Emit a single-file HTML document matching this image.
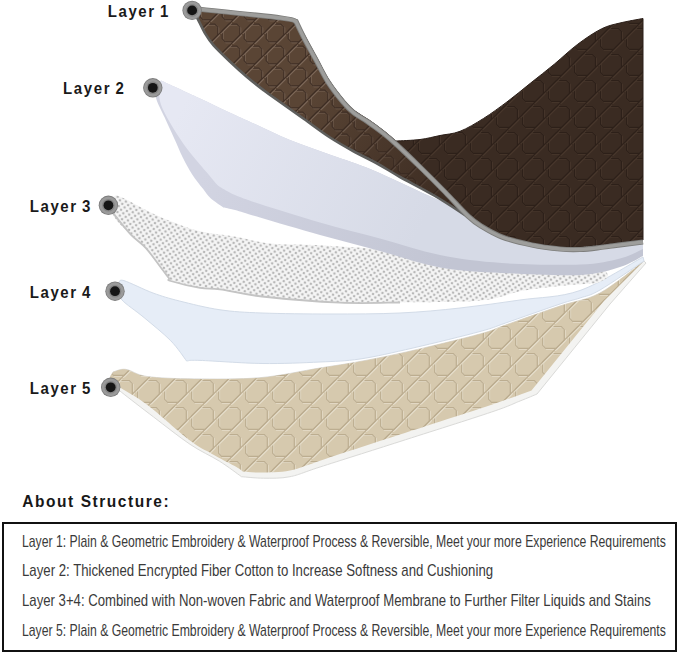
<!DOCTYPE html>
<html><head><meta charset="utf-8"><style>
html,body{margin:0;padding:0;background:#fff;}
body{width:679px;height:654px;position:relative;overflow:hidden;font-family:"Liberation Sans",sans-serif;}
.lab{position:absolute;font-weight:bold;font-size:15px;line-height:15px;letter-spacing:1.6px;word-spacing:-1.5px;color:#1a1a1a;white-space:nowrap;transform-origin:0 12.70px;transform:scaleY(1.1);}
.head{position:absolute;left:22.3px;top:493.78px;font-weight:bold;font-size:15.5px;line-height:15.5px;letter-spacing:1.55px;color:#181818;white-space:nowrap;transform-origin:0 13.12px;transform:scaleY(1.1);}
.box{position:absolute;left:1.5px;top:522px;width:671.5px;height:126px;border:2px solid #111;}
.ln{position:absolute;left:22.3px;font-size:17px;line-height:17px;color:#3a3a3a;white-space:nowrap;transform-origin:0 0;}
</style></head><body>
<svg width="679" height="480" viewBox="0 0 679 480" style="position:absolute;left:0;top:0">
<defs>
<pattern id="qb" width="26" height="26" patternUnits="userSpaceOnUse" patternTransform="rotate(0) scale(1,1.0)">
<rect x="-1" y="-1" width="28" height="28" fill="#3a2b22"/>
<g opacity="1.0"><path d="M10.40 2.60 L20.40 2.60 L23.40 5.60 L23.40 15.60 L15.60 23.40 L5.60 23.40 L2.60 20.40 L2.60 10.40 Z" fill="none" stroke="#47362b" stroke-width="1.2" transform="translate(0.8,0.8)"/>
<path d="M10.40 2.60 L20.40 2.60 L23.40 5.60 L23.40 15.60 L15.60 23.40 L5.60 23.40 L2.60 20.40 L2.60 10.40 Z" fill="none" stroke="#2d2019" stroke-width="1.2"/>
<path d="M0 13.00 L13.00 0 M13.00 26.00 L26.00 13.00" fill="none" stroke="#47362b" stroke-width="1.2" transform="translate(0.8,0.8)"/>
<path d="M0 13.00 L13.00 0 M13.00 26.00 L26.00 13.00" fill="none" stroke="#2d2019" stroke-width="1.2"/></g>
</pattern>
<pattern id="qf" width="22" height="22" patternUnits="userSpaceOnUse" patternTransform="rotate(0) scale(1,1.0)">
<rect x="-1" y="-1" width="24" height="24" fill="#5a4535"/>
<g opacity="1.0"><path d="M8.80 2.20 L16.80 2.20 L19.80 5.20 L19.80 13.20 L13.20 19.80 L5.20 19.80 L2.20 16.80 L2.20 8.80 Z" fill="none" stroke="#7c6757" stroke-width="1.2" transform="translate(0.8,0.8)"/>
<path d="M8.80 2.20 L16.80 2.20 L19.80 5.20 L19.80 13.20 L13.20 19.80 L5.20 19.80 L2.20 16.80 L2.20 8.80 Z" fill="none" stroke="#3f2e24" stroke-width="1.2"/>
<path d="M0 11.00 L11.00 0 M11.00 22.00 L22.00 11.00" fill="none" stroke="#7c6757" stroke-width="1.2" transform="translate(0.8,0.8)"/>
<path d="M0 11.00 L11.00 0 M11.00 22.00 L22.00 11.00" fill="none" stroke="#3f2e24" stroke-width="1.2"/></g>
</pattern>
<pattern id="qt" width="27" height="27" patternUnits="userSpaceOnUse" patternTransform="rotate(0) scale(1,1.0)">
<rect x="-1" y="-1" width="29" height="29" fill="#d6c9ae"/>
<g opacity="1.0"><path d="M10.80 2.70 L21.30 2.70 L24.30 5.70 L24.30 16.20 L16.20 24.30 L5.70 24.30 L2.70 21.30 L2.70 10.80 Z" fill="none" stroke="#e6decb" stroke-width="1.2" transform="translate(0.8,0.8)"/>
<path d="M10.80 2.70 L21.30 2.70 L24.30 5.70 L24.30 16.20 L16.20 24.30 L5.70 24.30 L2.70 21.30 L2.70 10.80 Z" fill="none" stroke="#bcad90" stroke-width="1.2"/>
<path d="M0 13.50 L13.50 0 M13.50 27.00 L27.00 13.50" fill="none" stroke="#e6decb" stroke-width="1.2" transform="translate(0.8,0.8)"/>
<path d="M0 13.50 L13.50 0 M13.50 27.00 L27.00 13.50" fill="none" stroke="#bcad90" stroke-width="1.2"/></g>
</pattern>
<pattern id="md" width="6.0" height="6.0" patternUnits="userSpaceOnUse" patternTransform="rotate(12)">
<rect width="6.0" height="6.0" fill="#f6f6f6"/>
<circle cx="3.0" cy="3.0" r="1.3" fill="#b8b8b8"/>
<circle cx="0" cy="0" r="1.3" fill="#b8b8b8"/><circle cx="6.0" cy="0" r="1.3" fill="#b8b8b8"/><circle cx="0" cy="6.0" r="1.3" fill="#b8b8b8"/><circle cx="6.0" cy="6.0" r="1.3" fill="#b8b8b8"/>
</pattern>
<linearGradient id="gfd" gradientUnits="userSpaceOnUse" x1="300" y1="100" x2="450" y2="200"><stop offset="0" stop-color="#2e2019" stop-opacity="0"/><stop offset="1" stop-color="#33241c" stop-opacity="0.75"/></linearGradient>
<linearGradient id="g4" gradientUnits="userSpaceOnUse" x1="0" y1="296" x2="0" y2="330"><stop offset="0" stop-color="#f4f7fb"/><stop offset="1" stop-color="#e1e9f4"/></linearGradient>
<linearGradient id="g2" gradientUnits="userSpaceOnUse" x1="180" y1="110" x2="420" y2="230"><stop offset="0" stop-color="#e6e8f3"/><stop offset="1" stop-color="#d6dae6"/></linearGradient>
<linearGradient id="g2u" gradientUnits="userSpaceOnUse" x1="200" y1="180" x2="450" y2="270"><stop offset="0" stop-color="#d2d4e2"/><stop offset="1" stop-color="#c2c5d3"/></linearGradient>
</defs>
<path d="M113.0 372.0 C115.2 371.6 120.2 368.6 125.9 369.4 C131.6 370.1 135.6 374.9 147.0 376.5 C158.4 378.1 175.4 378.7 194.2 378.9 C213.0 379.1 239.0 379.5 260.0 377.7 C281.0 375.9 303.3 370.7 320.0 368.0 C336.7 365.3 344.5 364.4 360.0 361.5 C375.5 358.6 393.0 355.1 413.0 350.5 C433.0 345.9 464.6 338.2 480.0 334.0 C495.4 329.8 492.3 329.7 505.6 325.0 C518.9 320.3 544.3 311.3 560.0 306.0 C575.7 300.7 586.0 300.5 600.0 293.0 C614.0 285.5 636.7 266.3 644.0 261.0 L646.0 263.0 L610.0 304.0 L537.0 394.0 C534.2 395.2 527.6 398.0 520.0 401.0 C512.4 404.0 511.6 405.2 491.6 412.0 C471.6 418.8 428.6 432.3 400.0 441.5 C371.4 450.7 338.3 461.1 320.0 467.0 C301.7 472.9 299.4 474.8 290.0 476.7 C280.6 478.6 271.7 478.2 263.6 478.2 C255.5 478.2 245.2 476.9 241.5 476.7 C237.8 474.1 228.1 466.6 219.5 461.2 C210.9 455.8 201.0 451.7 190.0 444.3 C179.0 436.9 165.1 425.7 153.6 417.0 C142.1 408.3 128.5 397.8 121.2 392.0 C113.9 386.2 111.4 385.3 110.0 382.0 C108.6 378.7 112.5 373.7 113.0 372.0 Z" fill="#f3f3f1" stroke="#dadad8" stroke-width="1"/>
<path d="M113.0 372.0 C115.2 371.6 120.2 368.6 125.9 369.4 C131.6 370.1 135.6 374.9 147.0 376.5 C158.4 378.1 175.4 378.7 194.2 378.9 C213.0 379.1 239.0 379.5 260.0 377.7 C281.0 375.9 303.3 370.7 320.0 368.0 C336.7 365.3 344.5 364.4 360.0 361.5 C375.5 358.6 393.0 355.1 413.0 350.5 C433.0 345.9 464.6 338.2 480.0 334.0 C495.4 329.8 492.3 329.7 505.6 325.0 C518.9 320.3 544.3 311.3 560.0 306.0 C575.7 300.7 586.0 300.5 600.0 293.0 C614.0 285.5 636.7 266.3 644.0 261.0 L604.0 301.0 L531.5 390.5 C524.9 392.9 506.7 399.7 491.6 404.8 C476.5 409.9 456.3 416.3 441.0 421.3 C425.7 426.3 413.3 430.3 400.0 434.6 C386.7 438.9 374.3 443.0 361.0 447.3 C347.7 451.6 331.8 456.8 320.0 460.7 C308.2 464.6 300.0 468.5 290.0 470.5 C280.0 472.5 267.8 472.3 260.0 472.5 C252.2 472.7 245.8 471.7 243.0 471.5 C241.5 470.5 239.4 468.6 234.2 465.7 C229.0 462.8 219.4 458.1 212.0 453.9 C204.6 449.7 200.8 448.8 190.0 440.6 C179.2 432.4 158.6 413.5 147.1 404.8 C135.6 396.1 127.4 392.4 121.2 388.3 C115.0 384.2 111.4 382.7 110.0 380.0 C108.6 377.3 112.5 373.3 113.0 372.0 Z" fill="url(#qt)"/>
<path d="M119.0 283.0 C119.8 282.6 118.2 278.9 123.9 280.6 C129.6 282.3 143.7 289.6 153.0 293.0 C162.3 296.4 168.3 298.2 179.5 301.0 C190.7 303.8 206.2 307.8 220.0 309.8 C233.8 311.8 243.7 312.3 262.0 313.0 C280.3 313.7 307.0 314.0 330.0 314.0 C353.0 314.0 378.3 314.0 400.0 313.0 C421.7 312.0 440.0 310.2 460.0 308.0 C480.0 305.8 500.0 302.9 520.0 300.0 C540.0 297.1 559.5 297.7 580.0 290.5 C600.5 283.3 632.5 262.6 643.0 257.0 L644.0 261.0 C636.7 265.8 610.7 283.8 600.0 290.0 C589.3 296.2 586.7 295.7 580.0 298.0 C573.3 300.3 572.4 299.8 560.0 304.0 C547.6 308.2 518.9 318.4 505.6 323.0 C492.3 327.6 495.4 327.3 480.0 331.5 C464.6 335.7 433.0 343.4 413.0 348.0 C393.0 352.6 375.5 356.7 360.0 359.0 C344.5 361.3 336.3 361.2 320.0 362.0 C303.7 362.8 282.0 363.8 262.0 363.5 C242.0 363.2 212.6 360.8 200.0 360.4 C187.4 360.0 188.8 360.9 186.6 361.0 C183.9 357.6 177.8 347.9 170.7 340.7 C163.6 333.5 152.3 324.5 144.2 317.7 C136.1 310.9 126.2 304.6 122.0 300.0 C117.8 295.4 119.5 292.8 119.0 290.0 C118.5 287.2 119.0 284.2 119.0 283.0 Z" fill="#e6edf7" stroke="#d3dce8" stroke-width="1"/>
<path d="M112.0 199.0 C113.0 198.5 112.6 194.2 118.3 196.0 C124.0 197.8 137.5 205.8 145.9 209.9 C154.3 214.0 159.8 217.0 168.8 220.6 C177.8 224.2 188.6 228.6 200.0 231.3 C211.4 234.0 225.3 235.0 237.0 237.0 C248.7 239.0 256.2 242.1 270.0 243.5 C283.8 244.9 299.7 244.2 320.0 245.3 C340.3 246.4 362.0 247.9 392.0 250.0 C422.0 252.1 465.3 255.7 500.0 258.0 C534.7 260.3 583.3 263.0 600.0 264.0 C601.3 266.0 608.3 272.8 608.0 276.0 C607.7 279.2 599.7 281.8 598.0 283.0 C591.7 283.5 572.6 284.7 560.0 286.0 C547.4 287.3 535.8 288.3 522.5 290.7 C509.2 293.1 500.4 298.6 480.0 300.6 C459.6 302.6 423.3 302.1 400.0 302.5 C376.7 302.9 363.0 303.7 340.0 302.7 C317.0 301.7 282.0 298.7 262.0 296.5 C242.0 294.3 230.3 290.8 220.0 289.4 C209.7 288.0 208.2 289.3 200.0 287.9 C191.8 286.5 175.6 282.1 170.7 281.0 C170.4 280.5 170.4 280.2 168.8 278.0 C167.2 275.8 165.0 273.0 161.2 268.0 C157.4 263.0 151.0 253.7 145.9 248.1 C140.8 242.5 136.1 239.8 130.6 234.3 C125.1 228.8 116.1 221.1 113.0 215.2 C109.9 209.3 112.2 201.7 112.0 199.0 Z" fill="url(#md)"/>
<path d="M113.0 213.0 C115.9 216.6 125.1 228.5 130.6 234.3 C136.1 240.2 140.8 242.5 145.9 248.1 C151.0 253.7 157.4 263.0 161.2 268.0 C165.0 273.0 167.2 275.8 168.8 278.0 C170.4 280.2 165.5 279.4 170.7 281.0 C175.9 282.6 191.8 286.5 200.0 287.9 C208.2 289.3 209.7 288.0 220.0 289.4 C230.3 290.8 242.0 294.3 262.0 296.5 C282.0 298.7 317.0 301.7 340.0 302.7 C363.0 303.7 390.0 302.5 400.0 302.5" fill="none" stroke="#c4c4c4" stroke-width="1.8"/>
<path d="M161.0 80.5 C167.3 83.4 187.7 92.7 199.0 98.0 C210.3 103.3 219.7 107.9 229.0 112.2 C238.3 116.5 244.8 119.4 255.0 124.0 C265.2 128.6 277.3 134.8 290.0 140.0 C302.7 145.2 317.2 150.0 331.0 155.0 C344.8 160.0 356.0 163.1 372.5 170.0 C389.0 176.9 412.1 188.3 430.0 196.3 C447.9 204.3 463.3 210.7 480.0 218.0 C496.7 225.3 516.7 234.8 530.0 240.0 C543.3 245.2 548.3 247.3 560.0 249.0 C571.7 250.7 586.2 251.0 600.0 250.0 C613.8 249.0 635.8 244.2 643.0 243.0 L643.0 256.0 C639.2 257.8 630.5 263.8 620.0 267.0 C609.5 270.2 599.7 274.0 580.0 275.0 C560.3 276.0 525.3 274.2 502.0 273.0 C478.7 271.8 460.3 271.2 440.0 267.5 C419.7 263.8 400.0 256.4 380.0 251.0 C360.0 245.6 340.0 240.6 320.0 235.0 C300.0 229.4 274.2 221.7 260.0 217.5 C245.8 213.3 241.1 211.7 235.0 210.0 C228.9 208.3 225.3 207.8 223.4 207.4 C221.3 205.9 214.0 201.4 210.6 198.3 C207.2 195.2 206.3 193.1 203.2 189.1 C200.1 185.1 195.6 179.6 192.2 174.4 C188.8 169.2 186.1 164.0 183.0 157.9 C179.9 151.8 177.0 144.4 173.9 137.7 C170.8 131.0 167.6 123.9 164.7 117.5 C161.8 111.1 157.8 104.1 156.4 99.2 C155.0 94.3 155.2 91.1 156.0 88.0 C156.8 84.9 160.2 81.8 161.0 80.5 Z" fill="url(#g2u)"/>
<path d="M161.0 80.5 C167.3 83.4 187.7 92.7 199.0 98.0 C210.3 103.3 219.7 107.9 229.0 112.2 C238.3 116.5 244.8 119.4 255.0 124.0 C265.2 128.6 277.3 134.8 290.0 140.0 C302.7 145.2 317.2 150.0 331.0 155.0 C344.8 160.0 356.0 163.1 372.5 170.0 C389.0 176.9 412.1 188.3 430.0 196.3 C447.9 204.3 463.3 210.7 480.0 218.0 C496.7 225.3 516.7 234.8 530.0 240.0 C543.3 245.2 548.3 247.3 560.0 249.0 C571.7 250.7 586.2 251.0 600.0 250.0 C613.8 249.0 635.8 244.2 643.0 243.0 L643.0 249.0 C639.2 250.6 630.5 255.9 620.0 258.5 C609.5 261.1 599.7 263.8 580.0 264.5 C560.3 265.2 525.3 264.6 502.0 263.0 C478.7 261.4 460.3 259.1 440.0 255.0 C419.7 250.9 400.0 243.9 380.0 238.5 C360.0 233.1 340.0 228.2 320.0 222.4 C300.0 216.7 274.2 208.6 260.0 204.0 C245.8 199.4 241.7 197.8 235.0 195.0 C228.3 192.2 222.5 188.3 220.0 187.0 C219.3 186.4 218.2 186.0 216.0 183.6 C213.8 181.2 210.2 176.6 206.9 172.6 C203.6 168.6 199.9 164.6 195.9 159.7 C191.9 154.8 187.3 149.3 183.0 143.2 C178.7 137.1 173.9 129.4 170.2 123.0 C166.5 116.6 162.9 110.2 161.0 104.7 C159.1 99.2 159.0 94.0 159.0 90.0 C159.0 86.0 160.7 82.1 161.0 80.5 Z" fill="url(#g2)"/>
<path d="M194.0 9.0 C208.5 10.5 263.8 16.0 281.0 18.0 C298.2 20.0 294.3 20.5 297.0 21.0 C298.3 23.5 301.7 29.8 305.0 36.0 C308.3 42.2 313.0 50.7 317.0 58.0 C321.0 65.3 324.5 73.0 329.0 80.0 C333.5 87.0 339.7 94.8 344.0 100.0 C348.3 105.2 350.8 107.7 355.0 111.0 C359.2 114.3 364.2 116.7 369.0 120.0 C373.8 123.3 379.5 127.5 384.0 131.0 C388.5 134.5 394.0 139.3 396.0 141.0 C400.0 140.8 412.7 140.4 420.0 139.5 C427.3 138.6 433.3 136.9 440.0 135.5 C446.7 134.1 452.7 134.2 460.0 131.3 C467.3 128.5 475.8 123.3 483.6 118.4 C491.4 113.5 499.1 107.8 507.0 101.9 C514.9 96.0 522.8 89.3 530.7 83.0 C538.6 76.7 546.4 70.7 554.3 64.2 C562.1 57.7 569.9 50.1 577.8 44.2 C585.6 38.3 594.4 32.4 601.4 28.9 C608.4 25.4 613.1 24.7 620.0 23.0 C626.9 21.3 639.2 19.2 643.0 18.5 L643.0 240.0 C635.8 240.8 610.5 243.8 600.0 245.0 C589.5 246.2 586.7 246.7 580.0 247.0 C573.3 247.3 568.0 247.7 560.0 247.0 C552.0 246.3 541.7 244.8 532.0 243.0 C522.3 241.2 510.5 238.8 502.0 236.0 C493.5 233.2 486.7 229.2 481.0 226.0 C475.3 222.8 470.2 218.5 468.0 217.0 C462.5 213.5 446.3 202.7 435.0 196.0 C423.7 189.3 409.5 182.3 400.0 177.0 C390.5 171.7 385.8 168.3 378.0 164.0 C370.2 159.7 361.0 155.4 353.0 151.0 C345.0 146.6 338.2 142.8 330.0 137.5 C321.8 132.2 312.3 124.9 304.0 119.0 C295.7 113.1 286.7 106.8 280.0 102.0 C273.3 97.2 269.5 94.7 264.0 90.5 C258.5 86.3 252.6 81.8 247.0 77.0 C241.4 72.2 236.0 67.3 230.4 62.0 C224.8 56.7 217.8 50.1 213.6 45.4 C209.4 40.7 208.0 38.3 205.2 33.6 C202.4 28.9 198.7 21.1 196.8 17.0 C194.9 12.9 194.5 10.3 194.0 9.0 Z" fill="url(#qb)" stroke="#2a1e18" stroke-width="1"/>
<path d="M194.0 9.0 C208.5 10.5 263.8 16.0 281.0 18.0 C298.2 20.0 294.3 20.5 297.0 21.0 C298.3 23.5 301.7 29.8 305.0 36.0 C308.3 42.2 313.0 50.7 317.0 58.0 C321.0 65.3 324.5 73.0 329.0 80.0 C333.5 87.0 339.7 94.8 344.0 100.0 C348.3 105.2 350.8 107.7 355.0 111.0 C359.2 114.3 364.2 116.7 369.0 120.0 C373.8 123.3 379.3 127.2 384.0 131.0 C388.7 134.8 391.0 137.2 397.0 143.0 C403.0 148.8 412.0 158.0 420.0 166.0 C428.0 174.0 437.0 182.5 445.0 191.0 C453.0 199.5 464.2 212.7 468.0 217.0 C462.5 213.5 446.3 202.7 435.0 196.0 C423.7 189.3 409.5 182.3 400.0 177.0 C390.5 171.7 385.8 168.3 378.0 164.0 C370.2 159.7 361.0 155.4 353.0 151.0 C345.0 146.6 338.2 142.8 330.0 137.5 C321.8 132.2 312.3 124.9 304.0 119.0 C295.7 113.1 286.7 106.8 280.0 102.0 C273.3 97.2 269.5 94.7 264.0 90.5 C258.5 86.3 252.6 81.8 247.0 77.0 C241.4 72.2 236.0 67.3 230.4 62.0 C224.8 56.7 217.8 50.1 213.6 45.4 C209.4 40.7 208.0 38.3 205.2 33.6 C202.4 28.9 198.7 21.1 196.8 17.0 C194.9 12.9 194.5 10.3 194.0 9.0 Z" fill="url(#qf)"/>
<path d="M194.0 9.0 C208.5 10.5 263.8 16.0 281.0 18.0 C298.2 20.0 294.3 20.5 297.0 21.0 C298.3 23.5 301.7 29.8 305.0 36.0 C308.3 42.2 313.0 50.7 317.0 58.0 C321.0 65.3 324.5 73.0 329.0 80.0 C333.5 87.0 339.7 94.8 344.0 100.0 C348.3 105.2 350.8 107.7 355.0 111.0 C359.2 114.3 364.2 116.7 369.0 120.0 C373.8 123.3 379.3 127.2 384.0 131.0 C388.7 134.8 391.0 137.2 397.0 143.0 C403.0 148.8 412.0 158.0 420.0 166.0 C428.0 174.0 437.0 182.5 445.0 191.0 C453.0 199.5 464.2 212.7 468.0 217.0 C462.5 213.5 446.3 202.7 435.0 196.0 C423.7 189.3 409.5 182.3 400.0 177.0 C390.5 171.7 385.8 168.3 378.0 164.0 C370.2 159.7 361.0 155.4 353.0 151.0 C345.0 146.6 338.2 142.8 330.0 137.5 C321.8 132.2 312.3 124.9 304.0 119.0 C295.7 113.1 286.7 106.8 280.0 102.0 C273.3 97.2 269.5 94.7 264.0 90.5 C258.5 86.3 252.6 81.8 247.0 77.0 C241.4 72.2 236.0 67.3 230.4 62.0 C224.8 56.7 217.8 50.1 213.6 45.4 C209.4 40.7 208.0 38.3 205.2 33.6 C202.4 28.9 198.7 21.1 196.8 17.0 C194.9 12.9 194.5 10.3 194.0 9.0 Z" fill="url(#gfd)"/>
<path d="M194.0 13.0 C194.5 13.7 194.9 13.6 196.8 17.0 C198.7 20.4 202.4 28.9 205.2 33.6 C208.0 38.3 209.4 40.7 213.6 45.4 C217.8 50.1 224.8 56.7 230.4 62.0 C236.0 67.3 241.4 72.2 247.0 77.0 C252.6 81.8 258.5 86.3 264.0 90.5 C269.5 94.7 273.3 97.2 280.0 102.0 C286.7 106.8 295.7 113.1 304.0 119.0 C312.3 124.9 321.8 132.2 330.0 137.5 C338.2 142.8 345.0 146.6 353.0 151.0 C361.0 155.4 370.2 159.7 378.0 164.0 C385.8 168.3 390.5 171.7 400.0 177.0 C409.5 182.3 423.7 189.3 435.0 196.0 C446.3 202.7 462.5 213.5 468.0 217.0" fill="none" stroke="#5e5e5c" stroke-width="2.6"/>
<path d="M192.0 8.5 C206.8 10.1 263.7 15.8 281.0 18.0 C298.3 20.2 293.5 20.9 296.0 21.5 C297.3 24.2 300.7 31.6 304.0 38.0 C307.3 44.4 312.0 52.7 316.0 60.0 C320.0 67.3 323.5 75.0 328.0 82.0 C332.5 89.0 338.7 96.8 343.0 102.0 C347.3 107.2 349.8 109.7 354.0 113.0 C358.2 116.3 363.2 118.7 368.0 122.0 C372.8 125.3 378.2 129.2 383.0 133.0 C387.8 136.8 390.8 139.3 397.0 145.0 C403.2 150.7 412.0 159.2 420.0 167.0 C428.0 174.8 437.0 183.8 445.0 192.0 C453.0 200.2 462.0 210.3 468.0 216.0 C474.0 221.7 475.3 222.5 481.0 226.0 C486.7 229.5 493.5 233.8 502.0 237.0 C510.5 240.2 522.3 243.0 532.0 245.0 C541.7 247.0 552.0 248.2 560.0 249.0 C568.0 249.8 573.3 249.8 580.0 249.5 C586.7 249.2 589.5 248.8 600.0 247.5 C610.5 246.2 635.8 242.9 643.0 242.0" fill="none" stroke="#7d7d7b" stroke-width="5.2"/>
<path d="M192.0 8.5 C206.8 10.1 263.7 15.8 281.0 18.0 C298.3 20.2 293.5 20.9 296.0 21.5 C297.3 24.2 300.7 31.6 304.0 38.0 C307.3 44.4 312.0 52.7 316.0 60.0 C320.0 67.3 323.5 75.0 328.0 82.0 C332.5 89.0 338.7 96.8 343.0 102.0 C347.3 107.2 349.8 109.7 354.0 113.0 C358.2 116.3 363.2 118.7 368.0 122.0 C372.8 125.3 378.2 129.2 383.0 133.0 C387.8 136.8 390.8 139.3 397.0 145.0 C403.2 150.7 412.0 159.2 420.0 167.0 C428.0 174.8 437.0 183.8 445.0 192.0 C453.0 200.2 462.0 210.3 468.0 216.0 C474.0 221.7 475.3 222.5 481.0 226.0 C486.7 229.5 493.5 233.8 502.0 237.0 C510.5 240.2 522.3 243.0 532.0 245.0 C541.7 247.0 552.0 248.2 560.0 249.0 C568.0 249.8 573.3 249.8 580.0 249.5 C586.7 249.2 589.5 248.8 600.0 247.5 C610.5 246.2 635.8 242.9 643.0 242.0" fill="none" stroke="#9e9e9c" stroke-width="3.4"/>
</svg>
<svg width="679" height="480" style="position:absolute;left:0;top:0"><circle cx="192.1" cy="10.4" r="9.7" fill="#7c7c7c"/><circle cx="192.1" cy="10.4" r="8.9" fill="#9a9a9a"/><circle cx="192.1" cy="10.4" r="6.3" fill="#858585"/><circle cx="192.1" cy="10.4" r="4.9" fill="#151515"/><circle cx="152.8" cy="87.8" r="9.7" fill="#7c7c7c"/><circle cx="152.8" cy="87.8" r="8.9" fill="#9a9a9a"/><circle cx="152.8" cy="87.8" r="6.3" fill="#858585"/><circle cx="152.8" cy="87.8" r="4.9" fill="#151515"/><circle cx="108.4" cy="205.3" r="9.7" fill="#7c7c7c"/><circle cx="108.4" cy="205.3" r="8.9" fill="#9a9a9a"/><circle cx="108.4" cy="205.3" r="6.3" fill="#858585"/><circle cx="108.4" cy="205.3" r="4.9" fill="#151515"/><circle cx="115" cy="291.2" r="9.7" fill="#7c7c7c"/><circle cx="115" cy="291.2" r="8.9" fill="#9a9a9a"/><circle cx="115" cy="291.2" r="6.3" fill="#858585"/><circle cx="115" cy="291.2" r="4.9" fill="#151515"/><circle cx="110.7" cy="387.3" r="9.7" fill="#7c7c7c"/><circle cx="110.7" cy="387.3" r="8.9" fill="#9a9a9a"/><circle cx="110.7" cy="387.3" r="6.3" fill="#858585"/><circle cx="110.7" cy="387.3" r="4.9" fill="#151515"/></svg>
<div class="lab" style="left:107.7px;top:3.70px">Layer 1</div><div class="lab" style="left:63.1px;top:81.40px">Layer 2</div><div class="lab" style="left:29.7px;top:198.80px">Layer 3</div><div class="lab" style="left:29.7px;top:285.10px">Layer 4</div><div class="lab" style="left:29.7px;top:380.80px">Layer 5</div>
<div class="head">About Structure:</div>
<div class="box"></div>
<div class="ln" style="top:532.61px;transform:scaleX(0.7193)">Layer 1: Plain &amp; Geometric Embroidery &amp; Waterproof Process &amp; Reversible, Meet your more Experience Requirements</div><div class="ln" style="top:561.81px;transform:scaleX(0.7769)">Layer 2: Thickened Encrypted Fiber Cotton to Increase Softness and Cushioning</div><div class="ln" style="top:591.91px;transform:scaleX(0.7740)">Layer 3+4: Combined with Non-woven Fabric and Waterproof Membrane to Further Filter Liquids and Stains</div><div class="ln" style="top:621.61px;transform:scaleX(0.7193)">Layer 5: Plain &amp; Geometric Embroidery &amp; Waterproof Process &amp; Reversible, Meet your more Experience Requirements</div>
</body></html>
